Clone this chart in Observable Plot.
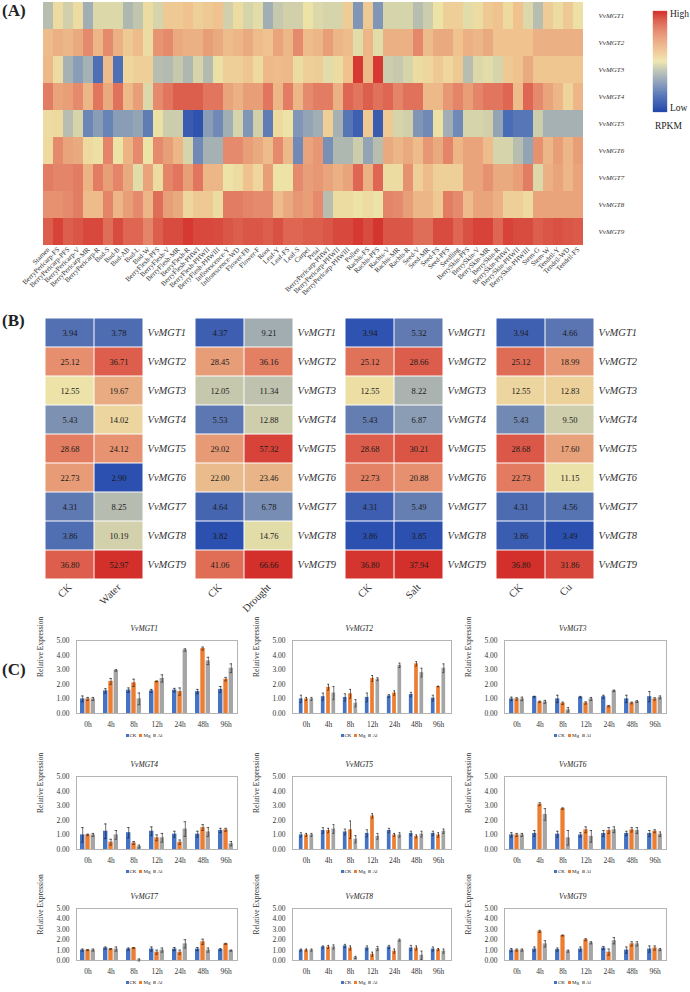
<!DOCTYPE html>
<html><head><meta charset="utf-8">
<script src="https://cdn.jsdelivr.net/npm/d3@7"></script>
<script src="https://cdn.jsdelivr.net/npm/@observablehq/plot@0.6"></script>
<style>
body{margin:0;background:#fff;}
#root{position:relative;width:690px;height:992px;overflow:hidden;font-family:"Liberation Serif",serif;color:#222;}
.pl{position:absolute;font-weight:bold;font-size:17px;line-height:1;}
.t{position:absolute;line-height:1;white-space:nowrap;}
.sq{display:inline-block;width:3px;height:3px;margin:0 1px 0 3px;vertical-align:middle;}
</style></head><body><div id="root"></div>
<script>
// ---------- Panel A data ----------
const tissues = ["Stamen","BerryPericarp-FS","BerryPericarp-PFS","BerryPericarp-V","BerryPericarp-MR","BerryPericarp-R","Bud-S","Bud-B","Bud-AB","Bud-L","Bud-W","BerryFlesh-PFS","BerryFlesh-V","BerryFlesh-MR","BerryFlesh-R","BerryFlesh-PHWI","BerryFlesh-PHWII","BerryFlesh-PHWIII","Inflorescence-Y","Inflorescence-WD","Flower-FB","Flower-F","Root","Leaf-Y","Leaf-FS","Leaf-S","Carpel","Petal","BerryPericarp-PHWI","BerryPericarp-PHWII","BerryPericarp-PHWIII","Pollen","Rachis-FS","Rachis-PFS","Rachis-V","Rachis-MR","Rachis-R","Seed-V","Seed-MR","Seed-FS","Seed-PFS","Seedling","BerrySkin-PFS","BerrySkin-V","BerrySkin-MR","BerrySkin-R","BerrySkin-PHWI","BerrySkin-PHWII","BerrySkin-PHWIII","Stem-G","Stem-W","Tendril-Y","Tendril-WD","Tendril-FS"];
const genes = ["VvMGT1","VvMGT2","VvMGT3","VvMGT4","VvMGT5","VvMGT6","VvMGT7","VvMGT8","VvMGT9"];
// relative expression score (0 = low/blue, 5 = mid/yellow, 10 = high/red)
const mgt1 = [4,5.2,4.5,5.2,3.5,4.7,4.7,4.7,3.8,4.2,5.2,4.6,5.8,5.8,6,5.6,5.8,6,4.5,5.2,4.6,4.8,3.5,4.3,4.5,4.5, 5.0,4.7,4.6,4.6,5.7,2.8,5.8,2.8,4.6,4.6,4.6,4.0,4.4,5.0,5.6,5.6,4.8,5.2,5.8,6.0,5.3,6,4.7,4.0,5.7,5.2,5.8,5.1];
const mgt2 = [6.2,6.6,6.4,6.8,7.8,6.4,7.8,6.6,5.8,6.2,5.2,7.5,7.8,6.8,6.6,6.6,7.2,6.8,6.2,6.4,6.8,6.2,6.0,7.0,6.4,7.8, 6.2,6.4,7.2,6.4,6.2,4.8,6.4,4.8,6.6,6.6,6.6,7.9,6.2,6.8,6.8,6.0,6.6,6.4,6.8,6.0,6.0,6.0,6.0,6.6,6.6,6.6,6.6,6.6];
const mgt3 = [6.3,5.2,3.6,3.0,3.6,1.6,6.2,1.6,5.4,5.6,5.6,4.0,3.9,4.3,3.8,4.6,3.9,5.1,5.6,5.6,5.9,5.3,6.3,6.2,6.3,5.2, 5.6,5.7,4.8,5.2,6.0,9.8,6.3,9.8,4.4,4.3,4.6,5.2,5.4,5.8,5.4,5.8,4.0,4.7,4.8,4.6,5.8,6.0,6.8,5.9,5.9,5.9,5.9,5.9];
const mgt4 = [8.2,7.0,7.2,7.8,6.4,8.4,6.8,8.5,6.3,7.2,4.7,7.8,8.4,9.0,9.0,9.0,8.4,8.4,7.0,6.6,7.2,7.2,8.4,6.4,8.2,6.4, 7.8,8.2,8.2,6.6,8.8,8.4,9.0,8.5,8.8,8.0,8.5,8.5,6.3,6.3,7.4,8.0,7.2,8.0,8.4,8.4,8.8,6.2,8.8,7.8,7.0,6.4,5.5,6.4];
const mgt5 = [5.2,5.3,4.0,4.6,2.3,3.0,2.2,3.0,3.0,3.2,2.0,5.1,4.4,4.4,0.8,0.4,3.0,2.4,3.5,4.6,2.8,4.5,2.0,5.3,5.0,2.8, 3.2,3.5,5.6,3.6,1.8,1.0,5.8,0.8,5.8,4.6,4.5,2.8,2.4,5.1,3.5,2.4,4.6,4.6,4.5,3.2,1.5,1.8,1.8,4.4,3.6,3.6,3.6,3.6];
const mgt6 = [5.3,7.8,7.0,6.8,5.3,5.1,8.0,5.0,6.5,7.8,5.0,7.8,7.2,6.4,4.6,2.4,3.6,3.6,7.8,7.8,7.2,6.8,6.2,7.8,6.3,2.4, 7.0,7.4,2.6,3.8,3.8,4.4,3.2,4.0,6.8,6.4,6.8,6.2,7.4,6.8,8.0,6.4,7.0,7.0,6.2,4.6,4.6,4.0,3.2,7.6,6.4,7.2,6.4,7.2];
const mgt7 = [8.2,8.0,8.0,8.2,6.5,8.2,7.2,8.0,6.8,4.8,7.0,5.2,8.0,8.4,7.2,8.4,6.4,6.4,5.0,5.2,6.0,5.4,7.2,5.0,5.0,7.8, 7.2,7.4,7.0,6.6,7.0,8.8,6.6,8.8,5.2,5.2,7.6,5.6,6.2,5.6,5.6,5.6,7.0,7.0,7.6,6.8,6.8,7.2,8.2,4.7,6.6,7.0,6.4,7.0];
const mgt8 = [7.6,7.6,7.8,8.2,6.2,6.2,8.0,6.4,7.2,7.8,6.4,8.6,7.2,6.8,5.4,5.8,5.8,5.2,8.2,8.2,8.0,7.8,7.8,6.2,6.8,7.4, 7.2,7.8,4.0,5.2,5.2,5.0,5.2,5.0,8.0,7.8,7.2,6.4,6.4,5.8,8.2,7.8,6.2,7.0,7.0,6.6,5.6,5.6,5.3,7.0,7.0,7.0,7.0,7.0];
const mgt9 = [9.0,9.6,9.0,9.2,9.5,9.5,8.6,9.4,8.8,8.8,8.0,9.0,9.4,9.4,9.8,9.5,9.5,9.4,9.2,9.0,9.2,9.2,9.0,9.3,8.8,8.8, 9.0,9.0,9.2,9.5,9.5,9.8,9.4,9.9,9.2,9.2,9.2,8.6,8.6,9.4,9.4,8.8,9.3,9.6,9.6,8.8,9.6,9.4,9.4,9.0,9.2,9.3,9.2,9.1];
const heatRows = [mgt1,mgt2,mgt3,mgt4,mgt5,mgt6,mgt7,mgt8,mgt9];

// ---------- Panel B data ----------
const ckBase = [3.94,25.12,12.55,5.43,28.68,22.73,4.31,3.86,36.80];
const water  = [3.78,36.71,19.67,14.02,24.12,2.90,8.25,10.19,52.97];
const ckDrought = [4.37,28.45,12.05,5.53,29.02,22.00,4.64,3.82,41.06];
const drought = [9.21,36.16,11.34,12.88,57.32,23.46,6.78,14.76,66.66];
const salt = [5.32,28.66,8.22,6.87,30.21,20.88,5.49,3.85,37.94];
const cu = [4.66,18.99,12.83,9.50,17.60,11.15,4.56,3.49,31.86];

// ---------- Panel C data ----------
const times = ["0h","4h","8h","12h","24h","48h","96h"];
const ckMean = [
 [1.0,1.55,1.6,1.55,1.6,1.5,1.65],
 [1.0,1.15,1.1,1.1,1.2,1.3,1.05],
 [1.0,1.15,1.0,1.12,1.15,1.0,1.15],
 [1.0,1.25,1.15,1.25,1.05,1.05,1.3],
 [1.0,1.3,1.2,1.1,1.3,1.1,1.1],
 [1.0,1.1,1.05,1.0,1.1,1.1,1.1],
 [1.0,1.2,1.1,1.1,1.1,1.1,1.05],
 [1.0,1.3,1.4,1.2,1.3,1.2,1.1],
 [1.0,1.1,1.05,1.1,1.2,1.0,1.1]];
const mgMean = [
 [1.0,2.2,2.1,2.2,1.5,4.45,2.35],
 [1.0,1.8,1.35,2.4,1.4,3.4,1.85],
 [1.0,0.8,0.7,0.72,0.5,0.72,1.0],
 [1.0,0.5,0.45,0.8,0.5,1.5,1.35],
 [1.0,1.3,1.35,2.3,1.0,0.9,1.0],
 [1.0,3.1,2.8,1.35,1.3,1.35,1.25],
 [1.0,1.1,1.2,0.8,0.8,1.8,1.6],
 [1.0,1.3,1.2,0.6,0.9,1.2,1.05],
 [1.0,2.8,2.4,2.0,0.8,1.6,1.2]];
const alMean = [
 [1.0,2.95,1.0,2.4,4.35,3.6,3.1],
 [1.0,1.4,0.7,2.35,3.3,2.8,3.1],
 [1.0,0.8,0.25,1.0,1.55,0.82,1.1],
 [1.0,1.0,0.2,0.8,1.4,1.2,0.4],
 [1.0,1.4,0.7,0.9,1.0,1.05,1.25],
 [1.0,2.4,0.8,0.9,1.35,1.3,1.05],
 [1.0,1.1,0.05,1.0,1.6,1.0,0.95],
 [1.0,1.3,0.3,1.15,1.95,0.5,0.9],
 [1.0,1.6,0.9,1.7,1.9,1.6,1.05]];
const ckSd = [
 [0.2,0.15,0.15,0.1,0.12,0.15,0.2],
 [0.25,0.25,0.25,0.3,0.1,0.15,0.2],
 [0.12,0.03,0.25,0.05,0.1,0.25,0.35],
 [0.5,0.5,0.35,0.3,0.2,0.2,0.15],
 [0.15,0.2,0.2,0.25,0.15,0.15,0.15],
 [0.15,0.2,0.2,0.15,0.2,0.15,0.2],
 [0.1,0.1,0.1,0.2,0.15,0.15,0.1],
 [0.1,0.1,0.15,0.2,0.15,0.25,0.2],
 [0.15,0.2,0.15,0.2,0.15,0.3,0.3]];
const mgSd = [
 [0.1,0.2,0.25,0.03,0.25,0.1,0.12],
 [0.1,0.2,0.3,0.2,0.15,0.15,0.02],
 [0.08,0.05,0.08,0.08,0.05,0.06,0.08],
 [0.05,0.2,0.1,0.2,0.15,0.2,0.1],
 [0.1,0.15,0.6,0.15,0.1,0.1,0.15],
 [0.1,0.1,0.05,0.2,0.2,0.15,0.1],
 [0.05,0.05,0.05,0.2,0.2,0.25,0.05],
 [0.1,0.15,0.2,0.2,0.2,0.2,0.1],
 [0.1,0.1,0.05,0.1,0.3,0.2,0.2]];
const alSd = [
 [0.1,0.05,0.4,0.25,0.08,0.25,0.3],
 [0.1,0.45,0.25,0.1,0.15,0.3,0.3],
 [0.12,0.1,0.15,0.1,0.05,0.06,0.1],
 [0.1,0.3,0.1,0.3,0.5,0.3,0.15],
 [0.1,0.3,0.25,0.2,0.15,0.2,0.15],
 [0.1,0.4,0.5,0.4,0.2,0.2,0.15],
 [0.1,0.2,0.1,0.2,0.4,0.2,0.05],
 [0.1,0.2,0.1,0.2,0.1,0.4,0.2],
 [0.1,0.3,0.1,0.1,0.3,0.2,0.1]];

// ---------- colours ----------
const heatDomain = [0,1.5,3,4.2,5,6,7,8,9,10];
const heatRange = ["#2549ab","#4a6cb5","#8a9db6","#c0c5ae","#ede3a6","#efc28e","#e9a47b","#e48468","#dc5f4d","#d3302b"];
const bRange = ["#2b50b0","#8a9cb4","#ede4a8","#e68c6c","#d3302b"];
const seriesColors = {CK:"#4472c4", Mg:"#ed7d31", Al:"#a5a5a5"};
const SERIF = "Liberation Serif";
const baseStyle = {background:"transparent", overflow:"visible", fontFamily:SERIF, color:"#222"};

const root = document.getElementById("root");
function place(node, left, top){ node.style.position="absolute"; node.style.left=left+"px"; node.style.top=top+"px"; root.appendChild(node); return node; }
function text(str, left, top, size, extra){ const d=document.createElement("div"); d.className="t"; d.style.fontSize=size+"px"; d.innerHTML=str; if(extra) Object.assign(d.style, extra); return place(d,left,top); }

// ---------- Panel A ----------
const heatData = genes.flatMap((g,i)=>tissues.map((t,j)=>({gene:g, tissue:t, v:heatRows[i][j]})));
place(Plot.plot({
  width:690, height:320, marginTop:1, marginLeft:42, marginRight:107, marginBottom:75,
  style:baseStyle,
  x:{domain:tissues, padding:0, label:null}, y:{domain:genes, padding:0, label:null},
  color:{type:"linear", domain:heatDomain, range:heatRange},
  marks:[
    Plot.cell(heatData,{x:"tissue", y:"gene", fill:"v"}),
    Plot.axisX({anchor:"bottom", tickSize:0, tickRotate:-45, tickPadding:3, fontSize:7, fill:"#333", label:null}),
    Plot.axisY({anchor:"right", tickSize:0, tickPadding:15, fontSize:7, fontStyle:"italic", fill:"#333", label:null})
  ]
}), 0, 0);
// legend ramp
const ramp = d3.range(0,10,0.1);
place(Plot.plot({
  width:14, height:101, margin:0, style:baseStyle,
  x:{domain:[0,1], axis:null}, y:{domain:[0,10], axis:null},
  color:{type:"linear", domain:heatDomain, range:heatRange},
  marks:[Plot.rect(ramp,{x1:0, x2:1, y1:d=>d, y2:d=>d+0.1, fill:d=>d, stroke:d=>d, strokeWidth:0.3})]
}), 653, 11);
text("High", 670, 10, 9.5);
text("Low", 670, 104, 9.5);
text("RPKM", 655, 122, 9.5);
const la = document.createElement("div"); la.className="pl"; la.textContent="(A)"; place(la, 2, 2);

// ---------- Panel B ----------
function heatB(ck, tr, name, left){
  const cols = ["CK", name];
  const data = genes.flatMap((g,i)=>[{c:"CK", g, v:ck[i]}, {c:name, g, v:tr[i]}]);
  const lo = Math.log(d3.min(data,d=>d.v)), hi = Math.log(d3.max(data,d=>d.v));
  const dom = d3.range(5).map(k=>Math.exp(lo + k/4*(hi-lo)));
  return place(Plot.plot({
    width:98+12+62, height:262+2+45, marginLeft:12, marginRight:62, marginTop:2, marginBottom:45,
    style:baseStyle,
    x:{domain:cols, padding:0, label:null}, y:{domain:genes, padding:0, label:null},
    color:{type:"log", domain:dom, range:bRange},
    marks:[
      Plot.cell(data,{x:"c", y:"g", fill:"v", inset:0.5}),
      Plot.text(data,{x:"c", y:"g", text:d=>d.v.toFixed(2), fontSize:8.5, fill:"#1a1a1a"}),
      Plot.axisX({anchor:"bottom", tickSize:0, tickRotate:-45, tickPadding:6, fontSize:10.5, fill:"#333", label:null}),
      Plot.axisY({anchor:"right", tickSize:0, tickPadding:4, fontSize:10.5, fontStyle:"italic", fill:"#333", label:null})
    ]
  }), left-12, 315);
}
heatB(ckBase, water, "Water", 45);
heatB(ckDrought, drought, "Drought", 195);
heatB(ckBase, salt, "Salt", 345);
heatB(ckBase, cu, "Cu", 496);
const lb = document.createElement("div"); lb.className="pl"; lb.textContent="(B)"; place(lb, 2, 312);

// ---------- Panel C ----------
const colL = [76,292,504], colR = [237,451,666];
const rowT = [640,776,908], rowH = [73,73,52];
function barChart(i, L, R, T, H){
  const mL=45, mR=4, mT=4, mB=20;
  const bw = (R-L)/7, barW = 4.4, step = 5.3;
  const series = [["CK",ckMean[i],ckSd[i]],["Mg",mgMean[i],mgSd[i]],["Al",alMean[i],alSd[i]]];
  const marks = [Plot.frame({stroke:"#b4b4b4", strokeWidth:1})];
  series.forEach(([name, mean, sd], k)=>{
    const o = (k-1)*step;
    const rows = times.map((t,j)=>({t, v:mean[j], lo:mean[j]-sd[j], hi:mean[j]+sd[j]}));
    marks.push(Plot.barY(rows,{x:"t", y:"v", fill:seriesColors[name], insetLeft:bw/2+o-barW/2, insetRight:bw/2-o-barW/2}));
    marks.push(Plot.ruleX(rows,{x:"t", y1:"lo", y2:"hi", dx:o, stroke:"#111", strokeWidth:0.6}));
    marks.push(Plot.tickY(rows,{x:"t", y:"lo", stroke:"#111", strokeWidth:0.6, insetLeft:bw/2+o-1.3, insetRight:bw/2-o-1.3}));
    marks.push(Plot.tickY(rows,{x:"t", y:"hi", stroke:"#111", strokeWidth:0.6, insetLeft:bw/2+o-1.3, insetRight:bw/2-o-1.3}));
  });
  marks.push(Plot.axisY({ticks:[0,1,2,3,4,5], tickFormat:d3.format(".2f"), tickSize:0, tickPadding:7, fontSize:7.5, fill:"#333", label:null}));
  marks.push(Plot.axisX({tickSize:0, tickPadding:8, fontSize:7.5, fill:"#333", label:null}));
  marks.push(Plot.text(["Relative Expression"],{frameAnchor:"left", rotate:-90, dx:-36, fontSize:7.5, fill:"#333"}));
  place(Plot.plot({
    width:R-L+mL+mR, height:H+mT+mB, marginLeft:mL, marginRight:mR, marginTop:mT, marginBottom:mB,
    style:baseStyle,
    x:{domain:times, padding:0, label:null}, y:{domain:[0,5], label:null},
    marks
  }), L-mL, T-mT);
  const cx = (L+R)/2 - 12;
  text("<i>"+genes[i]+"</i>", cx-14, T-15, 7.5);
  text('<span class="sq" style="background:#4472c4"></span>CK<span class="sq" style="background:#ed7d31"></span>Mg<span class="sq" style="background:#a5a5a5"></span>Al', cx-22, T+H+20, 5);
}
for(let i=0;i<9;i++) barChart(i, colL[i%3], colR[i%3], rowT[Math.floor(i/3)], rowH[Math.floor(i/3)]);
const lc = document.createElement("div"); lc.className="pl"; lc.textContent="(C)"; place(lc, 2, 661);
</script></body></html>
